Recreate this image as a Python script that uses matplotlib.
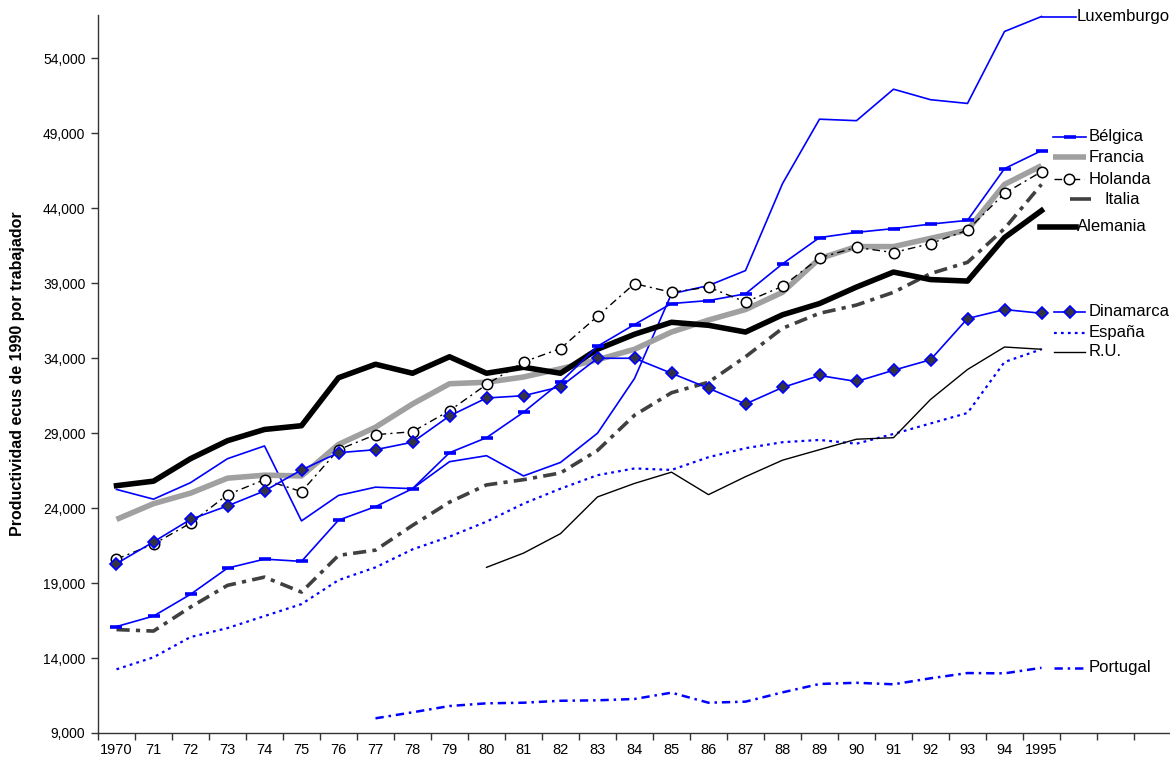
import matplotlib
matplotlib.use("Agg")
import matplotlib.pyplot as plt
from matplotlib.lines import Line2D
from matplotlib.ticker import FuncFormatter, FixedLocator

plt.rcParams['font.family'] = ['Liberation Sans', 'DejaVu Sans']
plt.rcParams['lines.scale_dashes'] = False

# Years on the category axis (three empty slots trail the data)
year_labels = ['1970', '71', '72', '73', '74', '75', '76', '77', '78', '79',
               '80', '81', '82', '83', '84', '85', '86', '87', '88', '89',
               '90', '91', '92', '93', '94', '1995']
n_slots = 29

# Productivity, ECU of 1990 per worker
luxemburgo = [25250, 24600, 25700, 27300, 28150, 23150, 24850, 25400, 25300, 27100,
              27500, 26150, 27050, 29000, 32650, 38300, 38850, 39850, 45650, 49950,
              49850, 51950, 51250, 51000, 55800, 56800]
belgica = [16100, 16800, 18250, 20000, 20600, 20450, 23200, 24100, 25300, 27700,
           28700, 30400, 32400, 34800, 36250, 37650, 37850, 38300, 40300, 42050,
           42400, 42650, 42950, 43200, 46650, 47850]
francia = [23250, 24300, 25000, 26000, 26200, 26150, 28250, 29400, 30950, 32300,
           32400, 32750, 33300, 33900, 34600, 35750, 36550, 37250, 38400, 40650,
           41450, 41450, 42000, 42550, 45600, 46850]
holanda = [20600, 21600, 23000, 24900, 25900, 25100, 27900, 28900, 29100, 30500,
           32250, 33750, 34650, 36800, 38980, 38400, 38750, 37750, 38800, 40700,
           41400, 41050, 41650, 42550, 45000, 46450]
italia = [15900, 15800, 17400, 18850, 19400, 18400, 20850, 21200, 22850, 24400,
          25550, 25900, 26350, 27850, 30200, 31700, 32400, 34100, 36000, 37000,
          37550, 38400, 39650, 40400, 42650, 45600]
alemania = [25500, 25800, 27300, 28500, 29250, 29500, 32700, 33600, 33000, 34100,
            33000, 33400, 33000, 34600, 35600, 36400, 36200, 35750, 36900, 37650,
            38750, 39750, 39250, 39150, 42050, 43850]
dinamarca = [20300, 21750, 23250, 24150, 25150, 26550, 27700, 27900, 28400, 30150,
             31350, 31500, 32100, 34000, 34000, 33000, 32000, 30950, 32050, 32850,
             32450, 33200, 33900, 36650, 37250, 37000]
espana = [13250, 14050, 15400, 16000, 16800, 17600, 19200, 20050, 21250, 22100,
          23100, 24300, 25300, 26200, 26650, 26550, 27400, 28000, 28400, 28550,
          28300, 28950, 29650, 30350, 33750, 34600]
ru_start = 10   # series begins in 1980
reino_unido = [20050, 21000, 22300, 24750, 25650, 26400, 24900, 26100, 27200, 27900,
               28600, 28700, 31250, 33250, 34750, 34600]
pt_start = 7    # series begins in 1977
portugal = [9980, 10380, 10800, 10980, 11020, 11150, 11180, 11270, 11690, 11020,
            11090, 11710, 12270, 12350, 12250, 12650, 13000, 12980, 13350]

y_ticks = [9000, 14000, 19000, 24000, 29000, 34000, 39000, 44000, 49000, 54000]

BLUE = '#0000FF'
GRAY = '#A0A0A0'
DARK = '#404040'

W, H = 1170, 765
fig = plt.figure(figsize=(W / 100, H / 100), dpi=100)
ax = fig.add_axes([98 / W, 1 - 733 / H, (1171 - 98) / W, (733 - 15) / H])

x = list(range(len(year_labels)))

styles = {
    'Luxemburgo': dict(color=BLUE, lw=1.2),
    'Bélgica': dict(color=BLUE, lw=1.2, marker='_', ms=8, mew=2.6),
    'Francia': dict(color=GRAY, lw=4.0, solid_capstyle='butt'),
    'Holanda': dict(color='black', lw=1.0, dashes=(5.5, 3, 1.5, 3),
                    marker='o', ms=7.5, mfc='white', mec='black', mew=1.1),
    'Italia': dict(color=DARK, lw=2.6, dashes=(9.5, 4.5, 3, 4.5)),
    'Alemania': dict(color='black', lw=4.0, solid_joinstyle='round'),
    'Dinamarca': dict(color=BLUE, lw=1.2, marker='D', ms=6.5,
                      mfc='#333344', mec=BLUE, mew=1.2),
    'España': dict(color=BLUE, lw=1.6, dashes=(2, 3)),
    'R.U.': dict(color='black', lw=1.0),
    'Portugal': dict(color=BLUE, lw=1.8, dashes=(6, 3.5, 1.8, 3.5)),
}

series = [
    ('Italia', x, italia),
    ('España', x, espana),
    ('R.U.', x[ru_start:], reino_unido),
    ('Portugal', x[pt_start:], portugal),
    ('Luxemburgo', x, luxemburgo),
    ('Francia', x, francia),
    ('Alemania', x, alemania),
    ('Bélgica', x, belgica),
    ('Holanda', x, holanda),
    ('Dinamarca', x, dinamarca),
]
for name, xs, ys in series:
    ax.plot(xs, ys, clip_on=False, **styles[name])

ax.set_xlim(-0.5, n_slots - 0.5)
ax.set_ylim(9000, 56900)

for side in ('top', 'right'):
    ax.spines[side].set_visible(False)
for side in ('left', 'bottom'):
    ax.spines[side].set_color('#333333')
    ax.spines[side].set_linewidth(1.0)

ax.set_yticks(y_ticks)
ax.yaxis.set_major_formatter(FuncFormatter(lambda v, p: f'{int(v):,}'))
ax.tick_params(axis='y', length=5, width=1, color='#333333', pad=4, labelsize=10)

ax.xaxis.set_major_locator(FixedLocator(x))
ax.set_xticklabels(year_labels)
ax.xaxis.set_minor_locator(FixedLocator([i - 0.5 for i in range(n_slots + 1)]))
ax.tick_params(axis='x', which='major', length=0, pad=7, labelsize=10.5)
ax.tick_params(axis='x', which='minor', length=5, width=1, color='#333333')

ax.set_ylabel('Productividad ecus de 1990 por trabajador', fontsize=11.5,
              fontweight='bold')
ax.yaxis.set_label_coords(-0.068, 0.5)

# Series keys placed beside the line ends (pixel layout: x0, x1, y, text x)
keys = [
    ('Luxemburgo', 1042, 1076, 17, 1077),
    ('Bélgica', 1053, 1086, 136.5, 1089),
    ('Francia', 1053, 1086, 157, 1089),
    ('Holanda', 1054, 1084, 179, 1089),
    ('Italia', 1070, 1091, 199, 1104),
    ('Alemania', 1040, 1076, 226.5, 1077),
    ('Dinamarca', 1054, 1085, 312, 1089),
    ('España', 1054, 1085, 332.5, 1089),
    ('R.U.', 1054, 1085, 352, 1089),
    ('Portugal', 1054, 1084, 667.5, 1089),
]
for name, x0, x1, yp, tx in keys:
    st = dict(styles[name])
    if name == 'Italia':
        st.pop('dashes')
        st['solid_capstyle'] = 'butt'
    if 'marker' in st:
        st['markevery'] = [1]
        xs = [x0 / W, (x0 + x1) / 2 / W, x1 / W]
        ys = [1 - yp / H] * 3
    else:
        xs = [x0 / W, x1 / W]
        ys = [1 - yp / H] * 2
    fig.add_artist(Line2D(xs, ys, transform=fig.transFigure, **st))
    fig.text(tx / W, 1 - yp / H, name, fontsize=12, ha='left', va='center')

fig.savefig('out.png', dpi=100)
